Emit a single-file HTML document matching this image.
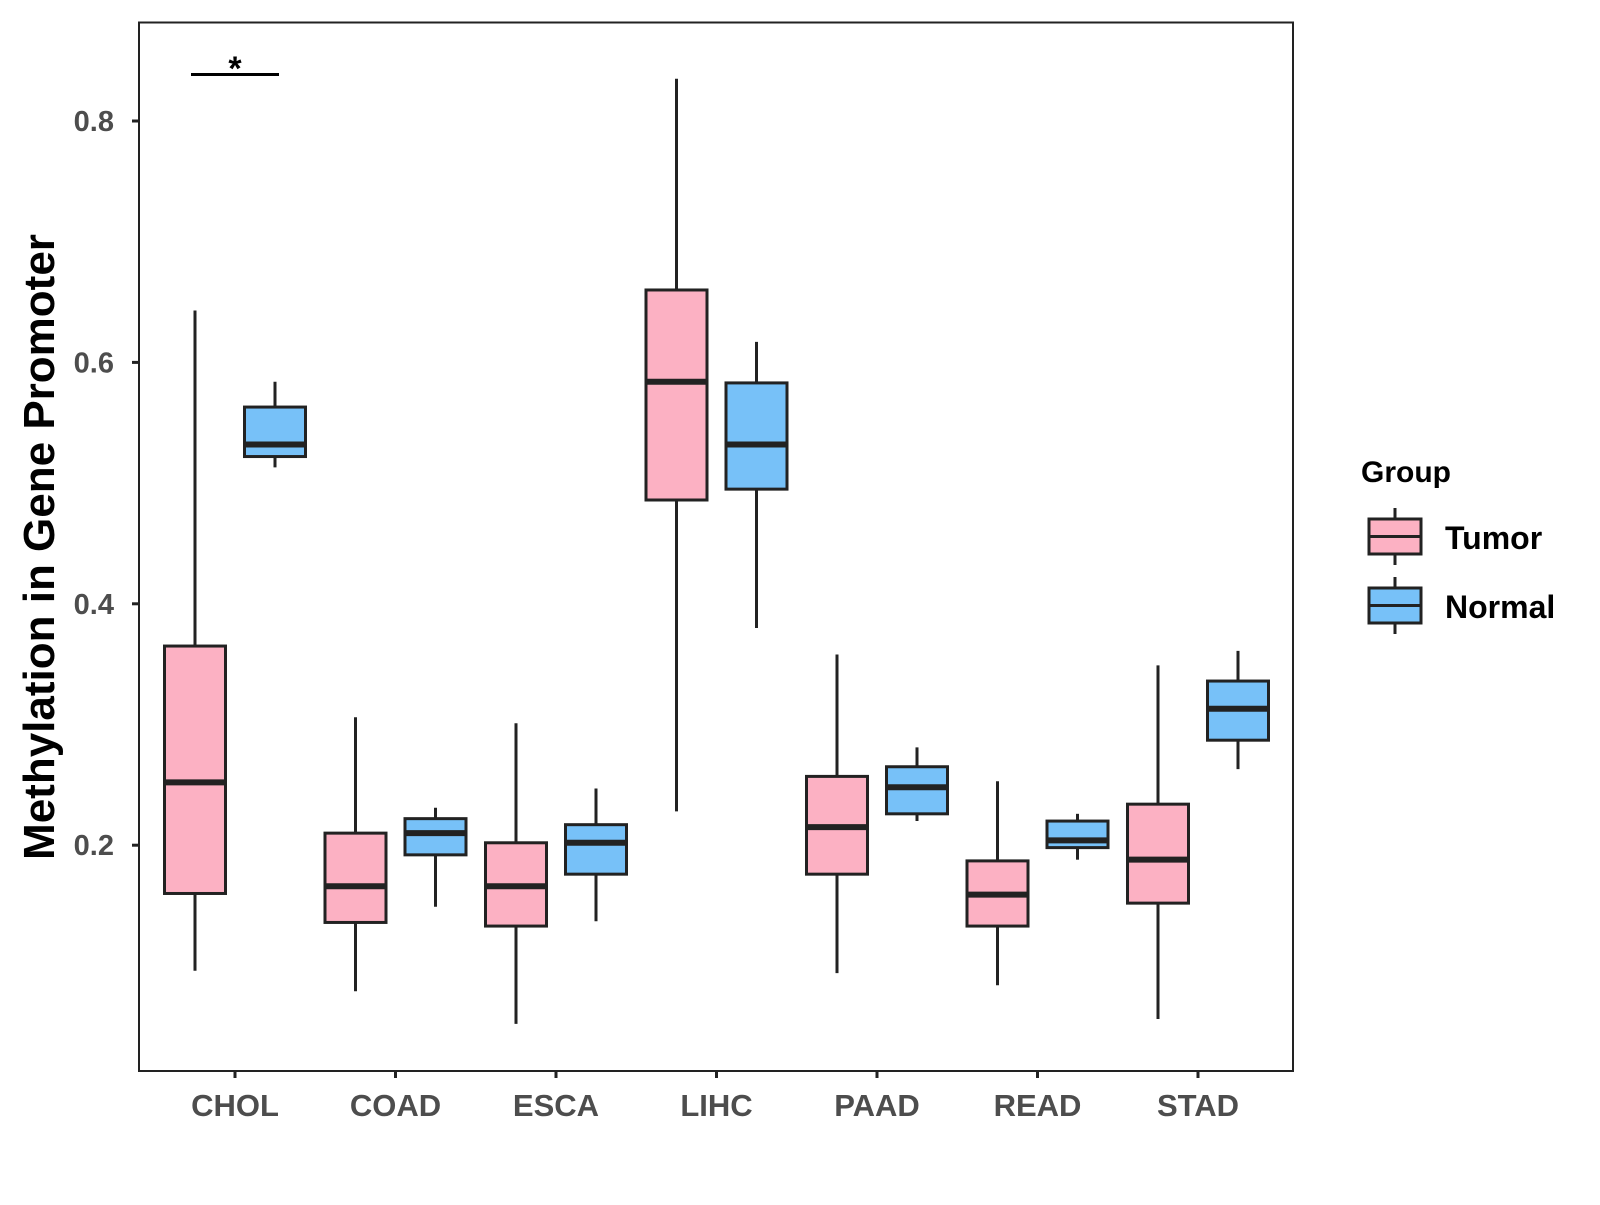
<!DOCTYPE html>
<html><head><meta charset="utf-8"><style>
body{margin:0;background:#fff}
svg text{font-family:"Liberation Sans",Arial,sans-serif;font-weight:bold}
</style></head><body>
<svg id="chart" width="1600" height="1200" viewBox="0 0 1600 1200" xmlns="http://www.w3.org/2000/svg">
<rect x="0" y="0" width="1600" height="1200" fill="#fff"/>
<g id="plot"></g>
<rect x="139" y="22.5" width="1154" height="1048.5" fill="none" stroke="#222" stroke-width="2"/>
<text transform="translate(54,547) rotate(-90)" text-anchor="middle" font-size="44" fill="#000">Methylation in Gene Promoter</text>
<g>
<line x1="191" y1="74.5" x2="279" y2="74.5" stroke="#000" stroke-width="3"/>
<text x="235" y="80" text-anchor="middle" font-size="34" fill="#000">*</text>
</g>
<g>
<text x="1361" y="482" font-size="30" fill="#000">Group</text>
<g>
<line x1="1395" y1="508" x2="1395" y2="565" stroke="#222" stroke-width="3"/>
<rect x="1369" y="519" width="52" height="35" fill="#fcb1c3" stroke="#222" stroke-width="3"/>
<line x1="1369" y1="536.5" x2="1421" y2="536.5" stroke="#222" stroke-width="3"/>
<text x="1445" y="549" font-size="32" fill="#000">Tumor</text>
</g>
<g>
<line x1="1395" y1="577" x2="1395" y2="634" stroke="#222" stroke-width="3"/>
<rect x="1369" y="588" width="52" height="35" fill="#77c1f8" stroke="#222" stroke-width="3"/>
<line x1="1369" y1="605.5" x2="1421" y2="605.5" stroke="#222" stroke-width="3"/>
<text x="1445" y="618" font-size="32" fill="#000">Normal</text>
</g>
</g>
</svg>
<script>
const categories = ["CHOL","COAD","ESCA","LIHC","PAAD","READ","STAD"];
const yTicks = [0.2,0.4,0.6,0.8];
const yTickLabels = ["0.2","0.4","0.6","0.8"];
// [low, q1, median, q3, high]
const tumorStats = [
 [0.096,0.160,0.252,0.365,0.643],
 [0.079,0.136,0.166,0.210,0.306],
 [0.052,0.133,0.166,0.202,0.301],
 [0.228,0.486,0.584,0.660,0.835],
 [0.094,0.176,0.215,0.257,0.358],
 [0.084,0.133,0.159,0.187,0.253],
 [0.056,0.152,0.188,0.234,0.349]
];
const normalStats = [
 [0.513,0.522,0.532,0.563,0.584],
 [0.149,0.192,0.210,0.222,0.231],
 [0.137,0.176,0.202,0.217,0.247],
 [0.380,0.495,0.532,0.583,0.617],
 [0.220,0.226,0.248,0.265,0.281],
 [0.188,0.198,0.204,0.220,0.226],
 [0.263,0.287,0.313,0.336,0.361]
];
const NS="http://www.w3.org/2000/svg";
const g=document.getElementById('plot');
function y(v){return 121+(0.8-v)*1207;}
function x(i){return 235+i*160.5;}
function mk(t,a){const e=document.createElementNS(NS,t);for(const k in a)e.setAttribute(k,a[k]);g.appendChild(e);return e;}
yTicks.forEach((v,i)=>{
 const t=mk('line',{x1:132,x2:139,y1:y(v),y2:y(v),stroke:'#222','stroke-width':3});
 
 
 const l=mk('text',{x:114,y:y(v)+10,'text-anchor':'end','font-size':29,fill:'#4d4d4d'});
 l.textContent=yTickLabels[i];
 
 
});
categories.forEach((c,i)=>{
 const t=mk('line',{x1:x(i),x2:x(i),y1:1071,y2:1078,stroke:'#222','stroke-width':3});
 
 
 const l=mk('text',{x:x(i),y:1116,'text-anchor':'middle','font-size':31,fill:'#4d4d4d'});
 l.textContent=c;
 
 
});
function box(s,cx,fill,name){
 const w=61;
 const wl=mk('line',{x1:cx,x2:cx,y1:y(s[4]),y2:y(s[0]),stroke:'#222','stroke-width':3});
 
 
 const r=mk('rect',{x:cx-w/2,y:y(s[3]),width:w,height:y(s[1])-y(s[3]),fill:fill,stroke:'#222','stroke-width':3});
 
 
 const m=mk('line',{x1:cx-w/2,x2:cx+w/2,y1:y(s[2]),y2:y(s[2]),stroke:'#222','stroke-width':6});
 
 
}
categories.forEach((c,i)=>{
 box(tumorStats[i],x(i)-40,'#fcb1c3','tumor-'+c.toLowerCase());
 box(normalStats[i],x(i)+40,'#77c1f8','normal-'+c.toLowerCase());
});
</script>
</body></html>
